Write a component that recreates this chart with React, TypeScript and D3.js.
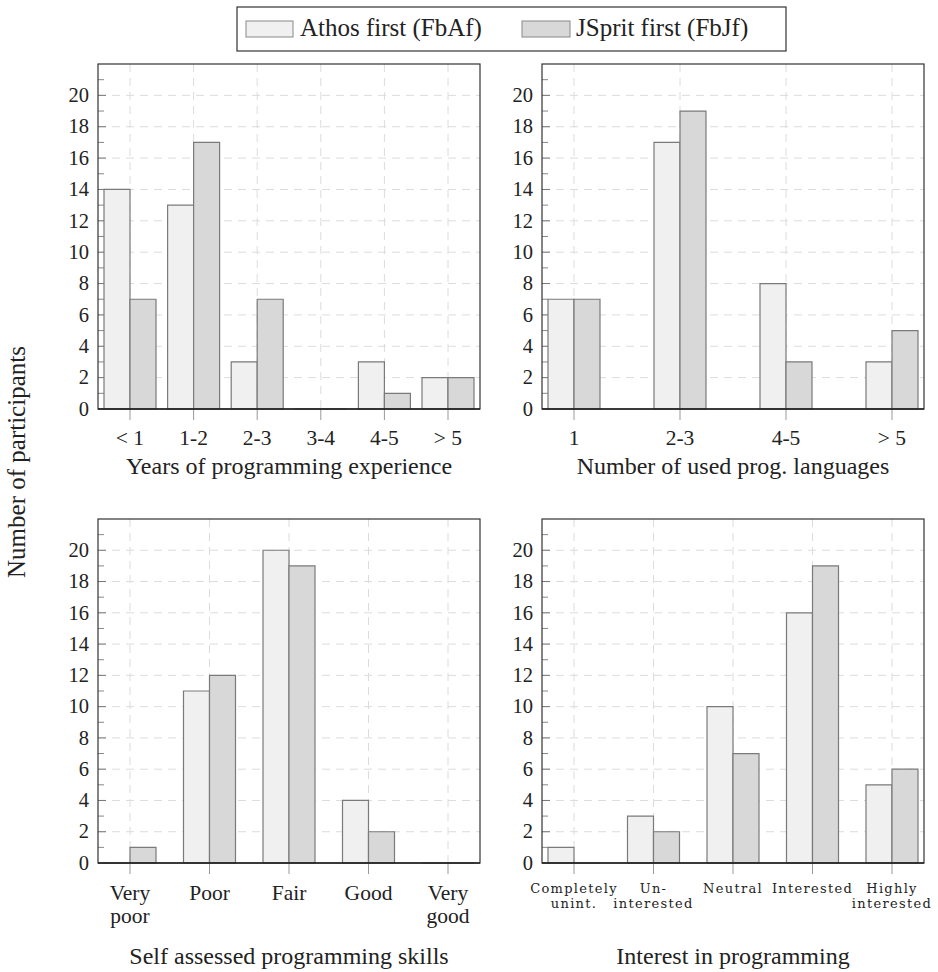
import * as d3 from "d3";

// categories and counts per panel
const yearsCats = ["< 1", "1-2", "2-3", "3-4", "4-5", "> 5"];
const yearsAthos = [14, 13, 3, 0, 3, 2];
const yearsJsprit = [7, 17, 7, 0, 1, 2];

const langCats = ["1", "2-3", "4-5", "> 5"];
const langAthos = [7, 17, 8, 3];
const langJsprit = [7, 19, 3, 5];

const skillCats = ["Very|poor", "Poor", "Fair", "Good", "Very|good"];
const skillAthos = [0, 11, 20, 4, 0];
const skillJsprit = [1, 12, 19, 2, 0];

const interestCats = ["Completely|unint.", "Un-|interested", "Neutral", "Interested", "Highly|interested"];
const interestAthos = [1, 3, 10, 16, 5];
const interestJsprit = [0, 2, 7, 19, 6];

const yTicks = [0, 2, 4, 6, 8, 10, 12, 14, 16, 18, 20];
const yMinor = [1, 3, 5, 7, 9, 11, 13, 15, 17, 19, 21];

const seriesNames = ["Athos first (FbAf)", "JSprit first (FbJf)"];
const fills = ["#f0f0f0", "#d8d8d8"];

const FONT = "'Liberation Serif', serif";
const SMALL_FONT = "'DejaVu Serif', serif";
const width = 938;
const height = 972;

function Panel({ x0, x1, y0, y1, cats, a, b, title, small, labelDy, titleDy }) {
  const x = d3.scalePoint().domain(cats).range([x0 + 32, x1 - 32]);
  const y = d3.scaleLinear().domain([0, 22]).range([y1, y0]);
  const bw = 26;

  const bar = (cx, v) =>
    `M${cx},${y(0)}V${y(v)}H${cx + bw}V${y(0)}Z`;

  return (
    <g>
      {/* grid */}
      {yTicks.slice(1).map((t) => (
        <line key={"gy" + t} x1={x0} x2={x1} y1={y(t)} y2={y(t)}
          stroke="#dcdcdc" strokeDasharray="8,6" />
      ))}
      {cats.map((c) => (
        <line key={"gx" + c} x1={x(c)} x2={x(c)} y1={y0} y2={y1}
          stroke="#dcdcdc" strokeDasharray="8,6" />
      ))}
      {/* y ticks */}
      {yTicks.map((t) => (
        <line key={"ty" + t} x1={x0} x2={x0 + 8} y1={y(t)} y2={y(t)} stroke="#777" />
      ))}
      {yMinor.map((t) => (
        <line key={"tm" + t} x1={x0} x2={x0 + 6} y1={y(t)} y2={y(t)} stroke="#888" />
      ))}
      {/* x ticks below axis */}
      {cats.map((c) => (
        <line key={"tx" + c} x1={x(c)} x2={x(c)} y1={y1} y2={y1 + 11} stroke="#999" />
      ))}
      {/* bars */}
      {cats.map((c, i) => (
        <g key={"b" + c}>
          <path d={bar(x(c) - bw, a[i])} fill={fills[0]} stroke="#7a7a7a" strokeWidth={1.2} />
          <path d={bar(x(c), b[i])} fill={fills[1]} stroke="#7a7a7a" strokeWidth={1.2} />
        </g>
      ))}
      {/* frame */}
      <rect x={x0} y={y0} width={x1 - x0} height={y1 - y0} fill="none" stroke="#333" strokeWidth={1.2} />
      <line x1={x0} x2={x1} y1={y1} y2={y1} stroke="#222" strokeWidth={1.5} />
      {/* y labels */}
      {yTicks.map((t) => (
        <text key={"ly" + t} x={x0 - 9} y={y(t)} dy="0.33em" textAnchor="end"
          fontSize={20.5} fontFamily={FONT} fill="#222">{t}</text>
      ))}
      {/* x labels */}
      {cats.map((c) => (
        <text key={"lx" + c} x={x(c)} y={y1 + labelDy} textAnchor="middle"
          fontSize={small ? 13 : 21.5} letterSpacing={small ? 1.3 : 0}
          fontFamily={small ? SMALL_FONT : FONT} fill="#222">
          {c.split("|").map((s, k) => (
            <tspan key={k} x={x(c)} dy={k === 0 ? 0 : small ? 15 : 23}>{s}</tspan>
          ))}
        </text>
      ))}
      <text x={(x0 + x1) / 2} y={y1 + titleDy} textAnchor="middle"
        fontSize={24} fontFamily={FONT} fill="#222">{title}</text>
    </g>
  );
}

export default function App() {
  return (
    <svg width={width} height={height} style={{ position: "absolute", left: 0, top: 0, background: "#fff" }}>
      {/* legend */}
      <rect x={237} y={7} width={549} height={44} fill="#fff" stroke="#333" strokeWidth={1.2} />
      <rect x={246} y={21} width={47} height={16} fill={fills[0]} stroke="#888" />
      <text x={300} y={36} fontSize={25} fontFamily={FONT} fill="#222">{seriesNames[0]}</text>
      <rect x={522} y={21} width={48} height={16} fill={fills[1]} stroke="#888" />
      <text x={576} y={36} fontSize={25} fontFamily={FONT} fill="#222">{seriesNames[1]}</text>

      <Panel x0={98} x1={480} y0={64} y1={409} cats={yearsCats} a={yearsAthos} b={yearsJsprit}
        title="Years of programming experience" labelDy={36} titleDy={65} />
      <Panel x0={542} x1={924} y0={64} y1={409} cats={langCats} a={langAthos} b={langJsprit}
        title="Number of used prog. languages" labelDy={36} titleDy={65} />
      <Panel x0={98} x1={480} y0={519} y1={863} cats={skillCats} a={skillAthos} b={skillJsprit}
        title="Self assessed programming skills" labelDy={37} titleDy={101} />
      <Panel x0={542} x1={924} y0={519} y1={863} cats={interestCats} a={interestAthos} b={interestJsprit}
        title="Interest in programming" labelDy={30} titleDy={101} small />

      <text transform="translate(25,462) rotate(-90)" textAnchor="middle"
        fontSize={25} fontFamily={FONT} fill="#222">Number of participants</text>
    </svg>
  );
}
